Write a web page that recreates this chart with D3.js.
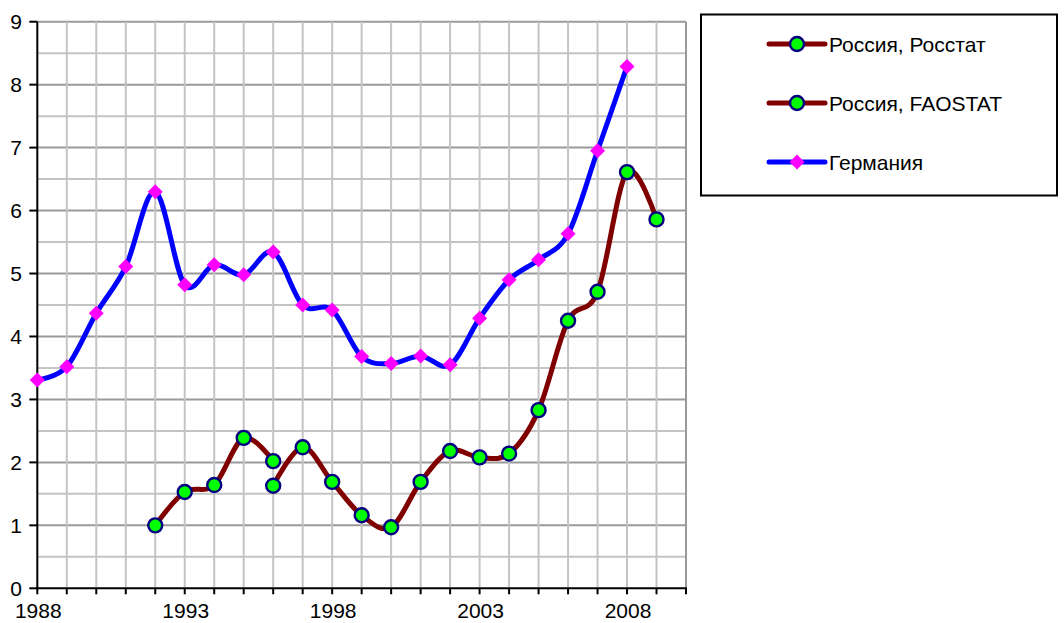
<!DOCTYPE html>
<html>
<head>
<meta charset="utf-8">
<script src="https://cdn.jsdelivr.net/npm/d3@7"></script>
<style>
  html, body { margin: 0; padding: 0; background: #fff; }
  svg { display: block; }
  text { font-family: "Liberation Sans", Arial, sans-serif; fill: #000; }
</style>
</head>
<body>
<svg id="chart" width="1064" height="623"></svg>
<script>
// ---------------- data ----------------
const seriesNames = ["Россия, Росстат", "Россия, FAOSTAT", "Германия"];
const rosstatYears = [1992, 1993, 1994, 1995, 1996];
const rosstatValues = [1.0, 1.53, 1.64, 2.39, 2.02];
const faostatYears = [1996, 1997, 1998, 1999, 2000, 2001, 2002, 2003, 2004, 2005, 2006, 2007, 2008, 2009];
const faostatValues = [1.63, 2.24, 1.69, 1.16, 0.97, 1.69, 2.18, 2.08, 2.14, 2.83, 4.25, 4.71, 6.61, 5.86];
const germanyYears = [1988, 1989, 1990, 1991, 1992, 1993, 1994, 1995, 1996, 1997, 1998, 1999, 2000, 2001, 2002, 2003, 2004, 2005, 2006, 2007, 2008];
const germanyValues = [3.31, 3.52, 4.37, 5.11, 6.30, 4.82, 5.14, 4.98, 5.34, 4.50, 4.42, 3.68, 3.57, 3.69, 3.55, 4.29, 4.90, 5.22, 5.63, 6.95, 8.29];
const xTickLabels = [1988, 1993, 1998, 2003, 2008];
const yTickLabels = [0, 1, 2, 3, 4, 5, 6, 7, 8, 9];

// ---------------- layout ----------------
const svg = d3.select("#chart");
const x = d3.scaleLinear().domain([1988, 2010]).range([37.3, 686]);
const y = d3.scaleLinear().domain([0, 9]).range([588.3, 21.7]);

// grid
const grid = svg.append("g");
const halfSteps = d3.range(1, 19).map(d => d / 2); // 0.5..9
grid.selectAll("line.h").data(halfSteps).join("line")
  .attr("x1", x(1988)).attr("x2", x(2010))
  .attr("y1", d => y(d)).attr("y2", d => y(d))
  .attr("stroke", d => Number.isInteger(d) ? "#9a9a9a" : "#c4c4c4")
  .attr("stroke-width", 2);
const years = d3.range(1989, 2011);
grid.selectAll("line.v").data(years).join("line")
  .attr("x1", d => x(d)).attr("x2", d => x(d))
  .attr("y1", y(0)).attr("y2", y(9))
  .attr("stroke", d => d === 2010 ? "#9a9a9a" : "#c4c4c4")
  .attr("stroke-width", 2);

// axes
const axes = svg.append("g");
axes.append("line").attr("x1", x(1988)).attr("x2", x(1988)).attr("y1", y(0) + 1).attr("y2", y(9))
  .attr("stroke", "#000").attr("stroke-width", 2);
axes.append("line").attr("x1", x(1988) - 1).attr("x2", x(2010) + 1).attr("y1", y(0)).attr("y2", y(0))
  .attr("stroke", "#000").attr("stroke-width", 2);
axes.selectAll("line.yt").data(yTickLabels).join("line")
  .attr("x1", x(1988) - 8).attr("x2", x(1988))
  .attr("y1", d => y(d)).attr("y2", d => y(d))
  .attr("stroke", "#000").attr("stroke-width", 2);
axes.selectAll("line.xt").data(d3.range(1988, 2011)).join("line")
  .attr("x1", d => x(d)).attr("x2", d => x(d))
  .attr("y1", y(0)).attr("y2", y(0) + 6)
  .attr("stroke", "#000").attr("stroke-width", 2);
axes.selectAll("text.yl").data(yTickLabels).join("text")
  .attr("x", 22).attr("y", d => y(d)).attr("dy", "0.36em")
  .attr("text-anchor", "end").style("font-size", "21px")
  .text(d => d);
axes.selectAll("text.xl").data(xTickLabels).join("text")
  .attr("x", d => x(d) + 1).attr("y", 618)
  .attr("text-anchor", "middle").style("font-size", "21px")
  .text(d => d);

// lines
const curve = d3.curveCatmullRom.alpha(0);
const line = d3.line().x(d => x(d[0])).y(d => y(d[1])).curve(curve);
const rosstat = d3.zip(rosstatYears, rosstatValues);
const faostat = d3.zip(faostatYears, faostatValues);
const germany = d3.zip(germanyYears, germanyValues);

const plot = svg.append("g");
function russiaSeries(data) {
  plot.append("path").datum(data).attr("d", line)
    .attr("fill", "none").attr("stroke", "#800000").attr("stroke-width", 5)
    .attr("stroke-linejoin", "round").attr("stroke-linecap", "round");
}
russiaSeries(rosstat);
russiaSeries(faostat);
plot.selectAll("circle.r").data(rosstat.concat(faostat)).join("circle")
  .attr("cx", d => x(d[0])).attr("cy", d => y(d[1])).attr("r", 7)
  .attr("fill", "#00ff00").attr("stroke", "#000080").attr("stroke-width", 2.4);

plot.append("path").datum(germany).attr("d", line)
  .attr("fill", "none").attr("stroke", "#0000ff").attr("stroke-width", 5)
  .attr("stroke-linejoin", "round").attr("stroke-linecap", "round");
const diamond = "M0,-7.5L7.5,0L0,7.5L-7.5,0Z";
plot.selectAll("path.g").data(germany).join("path")
  .attr("d", diamond)
  .attr("transform", d => `translate(${x(d[0])},${y(d[1])})`)
  .attr("fill", "#ff00ff");

// legend
const legend = svg.append("g");
legend.append("rect").attr("x", 701).attr("y", 14.5).attr("width", 356).attr("height", 181)
  .attr("fill", "#fff").attr("stroke", "#000").attr("stroke-width", 2);
const legendRows = [
  { name: seriesNames[0], color: "#800000", marker: "circle", cy: 44 },
  { name: seriesNames[1], color: "#800000", marker: "circle", cy: 103 },
  { name: seriesNames[2], color: "#0000ff", marker: "diamond", cy: 162 }
];
legendRows.forEach(r => {
  legend.append("line").attr("x1", 769).attr("x2", 825).attr("y1", r.cy).attr("y2", r.cy)
    .attr("stroke", r.color).attr("stroke-width", 5).attr("stroke-linecap", "round");
  if (r.marker === "circle") {
    legend.append("circle").attr("cx", 797).attr("cy", r.cy).attr("r", 7)
      .attr("fill", "#00ff00").attr("stroke", "#000080").attr("stroke-width", 2.4);
  } else {
    legend.append("path").attr("d", diamond).attr("transform", `translate(797,${r.cy})`)
      .attr("fill", "#ff00ff");
  }
  legend.append("text").attr("x", 829).attr("y", r.cy).attr("dy", "0.36em")
    .style("font-size", "21px").text(r.name);
});
</script>
</body>
</html>
